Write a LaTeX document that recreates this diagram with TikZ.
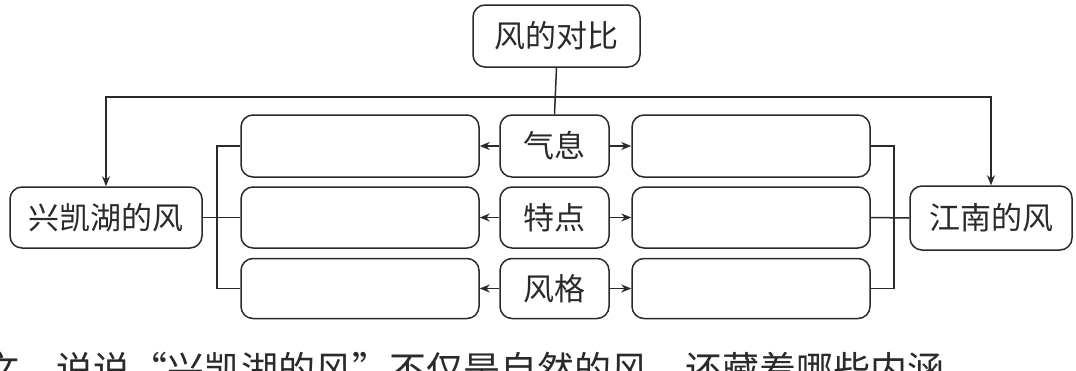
\documentclass[tikz,border=0pt]{standalone}
\usepackage{fontspec}
\newfontfamily\cjk{Noto Sans CJK SC}
\usetikzlibrary{arrows.meta}
\definecolor{ink}{HTML}{2A2A2A}
\tikzset{
  box/.style={draw=ink, line width=1.5pt, rounded corners=12pt, inner sep=0pt,
    font=\cjk\fontsize{31}{31}\selectfont, text=ink},
  link/.style={draw=ink, line width=1.5pt},
  arr/.style={link, -{Stealth[length=10pt,width=8pt]}},
}
\begin{document}
\begin{tikzpicture}[x=1pt,y=-1pt]
\clip (0,0) rectangle (1076,370);
\fill[white] (0,0) rectangle (1076,370);
% main nodes
\node[box, minimum width=167pt, minimum height=62pt] (top) at (556.5,36) {风的对比};
\node[box, minimum width=192pt, minimum height=61pt] (L) at (106,217.5) {兴凯湖的风};
\node[box, minimum width=162pt, minimum height=64pt] (R) at (991,218) {江南的风};
% middle labels
\node[box, minimum width=109pt, minimum height=62pt] (m1) at (554.5,146) {气息};
\node[box, minimum width=109pt, minimum height=61pt] (m2) at (554.5,217.5) {特点};
\node[box, minimum width=109pt, minimum height=60pt] (m3) at (554.5,288.5) {风格};
% blank boxes
\node[box, minimum width=238pt, minimum height=62pt] (l1) at (360,146) {};
\node[box, minimum width=238pt, minimum height=61pt] (l2) at (360,217.5) {};
\node[box, minimum width=238pt, minimum height=60pt] (l3) at (360,288.5) {};
\node[box, minimum width=238pt, minimum height=62pt] (r1) at (751,146) {};
\node[box, minimum width=238pt, minimum height=61pt] (r2) at (751,217.5) {};
\node[box, minimum width=238pt, minimum height=60pt] (r3) at (751,288.5) {};
% helper coordinates
\coordinate (hy) at (0,97);
\coordinate (lb) at (217,0);
\coordinate (rb) at (894,0);
% top connectors
\draw[link] (top.south) -- (m1.north);
\draw[arr] (top.south |- hy) -| (L.north);
\draw[arr] (top.south |- hy) -| (R.north);
% arrows from middle labels
\foreach \i in {1,2,3}{
  \draw[arr] (m\i.west) -- (l\i.east);
  \draw[arr] (m\i.east) -- (r\i.west);
}
% brackets
\draw[link] (l1.west) -- (l1.west -| lb) -- (l3.west -| lb) -- (l3.west);
\draw[link] (L.east) -- (l2.west);
\draw[link] (r1.east) -- (r1.east -| rb) -- (r3.east -| rb) -- (r3.east);
\draw[link] (r2.east) -- (R.west);
% bottom (cut-off) text
\node[anchor=base west, inner sep=0pt, text=ink, font=\cjk\fontsize{37}{37}\selectfont] (q) at (-18,383) {文，说说“兴凯湖的风”不仅是自然的风，还藏着哪些内涵};
\end{tikzpicture}
\end{document}
